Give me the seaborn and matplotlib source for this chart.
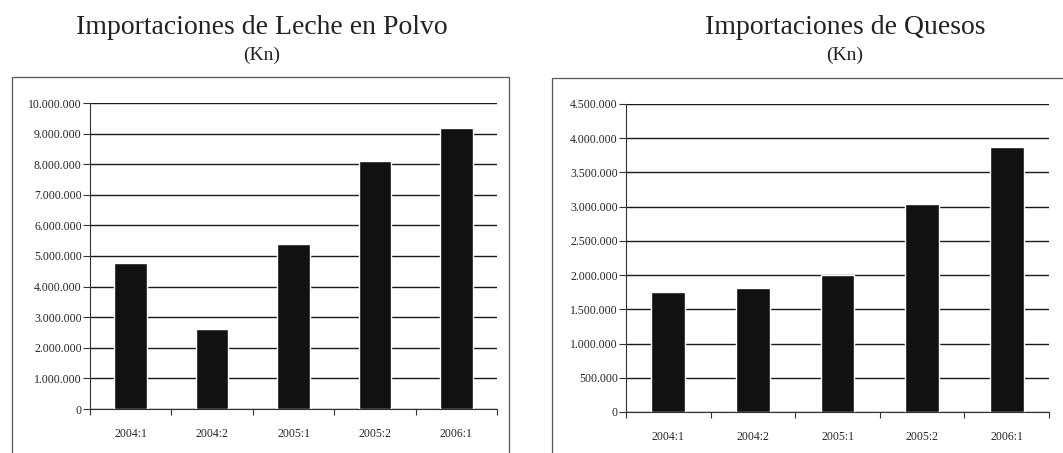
import matplotlib
matplotlib.use("Agg")
import matplotlib.pyplot as plt
import matplotlib.ticker as mticker
from matplotlib.patches import Rectangle
import seaborn as sns
import pandas as pd

periodos = ["2004:1", "2004:2", "2005:1", "2005:2", "2006:1"]
leche = [4780000, 2600000, 5400000, 8100000, 9170000]
quesos = [1760000, 1810000, 2000000, 3040000, 3870000]

sns.set_style("white")
plt.rcParams["font.family"] = ["Liberation Serif", "DejaVu Serif"]

W, H = 1063, 453
fig = plt.figure(figsize=(W / 100, H / 100), dpi=100)


def px(x0, y0, x1, y1):
    # pixel box (top-left origin) -> figure fraction
    return [x0 / W, 1 - y1 / H, (x1 - x0) / W, (y1 - y0) / H]


def miles(v, pos):
    return f"{int(v):,}".replace(",", ".")


def panel(rect, box, valores, ymax, paso, titulo, tx):
    fig.patches.append(Rectangle((box[0] / W, 1 - box[3] / H), (box[2] - box[0]) / W,
                                 (box[3] - box[1]) / H, transform=fig.transFigure,
                                 fill=False, edgecolor="#555555", lw=0.9))
    ax = fig.add_axes(px(*rect))
    df = pd.DataFrame({"periodo": periodos, "valor": valores})
    sns.barplot(data=df, x="periodo", y="valor", color="#121010", width=0.4,
                saturation=1, ax=ax, zorder=3)
    ax.set_xlim(-0.5, 4.5)
    ax.set_ylim(0, ymax)
    ax.yaxis.set_major_locator(mticker.MultipleLocator(paso))
    ax.yaxis.set_major_formatter(mticker.FuncFormatter(miles))
    ax.grid(axis="y", color="#1a1a1a", lw=1.0, zorder=0)
    ax.set_axisbelow(True)
    for s in ["top", "right"]:
        ax.spines[s].set_visible(False)
    ax.spines["left"].set_color("#333333")
    ax.spines["bottom"].set_color("#333333")
    ax.tick_params(axis="y", length=5, width=0.8, color="#333333", labelsize=8.5, pad=1, left=True)
    ax.tick_params(axis="x", which="major", length=0, labelsize=8.5, pad=14)
    ax.set_xticks([i - 0.5 for i in range(6)], minor=True)
    ax.tick_params(axis="x", which="minor", length=4, width=0.8, color="#333333", bottom=True)
    ax.set_xlabel("")
    ax.set_ylabel("")
    fig.text(tx / W, 1 - 27 / H, titulo, ha="center", va="center", fontsize=20, color="#222222")
    fig.text(tx / W, 1 - 55 / H, "(Kn)", ha="center", va="center", fontsize=14, color="#222222")
    return ax


panel((90, 103, 497, 409), (12, 77, 509, 460), leche, 10000000, 1000000,
      "Importaciones de Leche en Polvo", 262)
panel((626, 104, 1049, 412), (552, 78, 1070, 460), quesos, 4500000, 500000,
      "Importaciones de Quesos", 845)

fig.savefig("out.png", dpi=100)
